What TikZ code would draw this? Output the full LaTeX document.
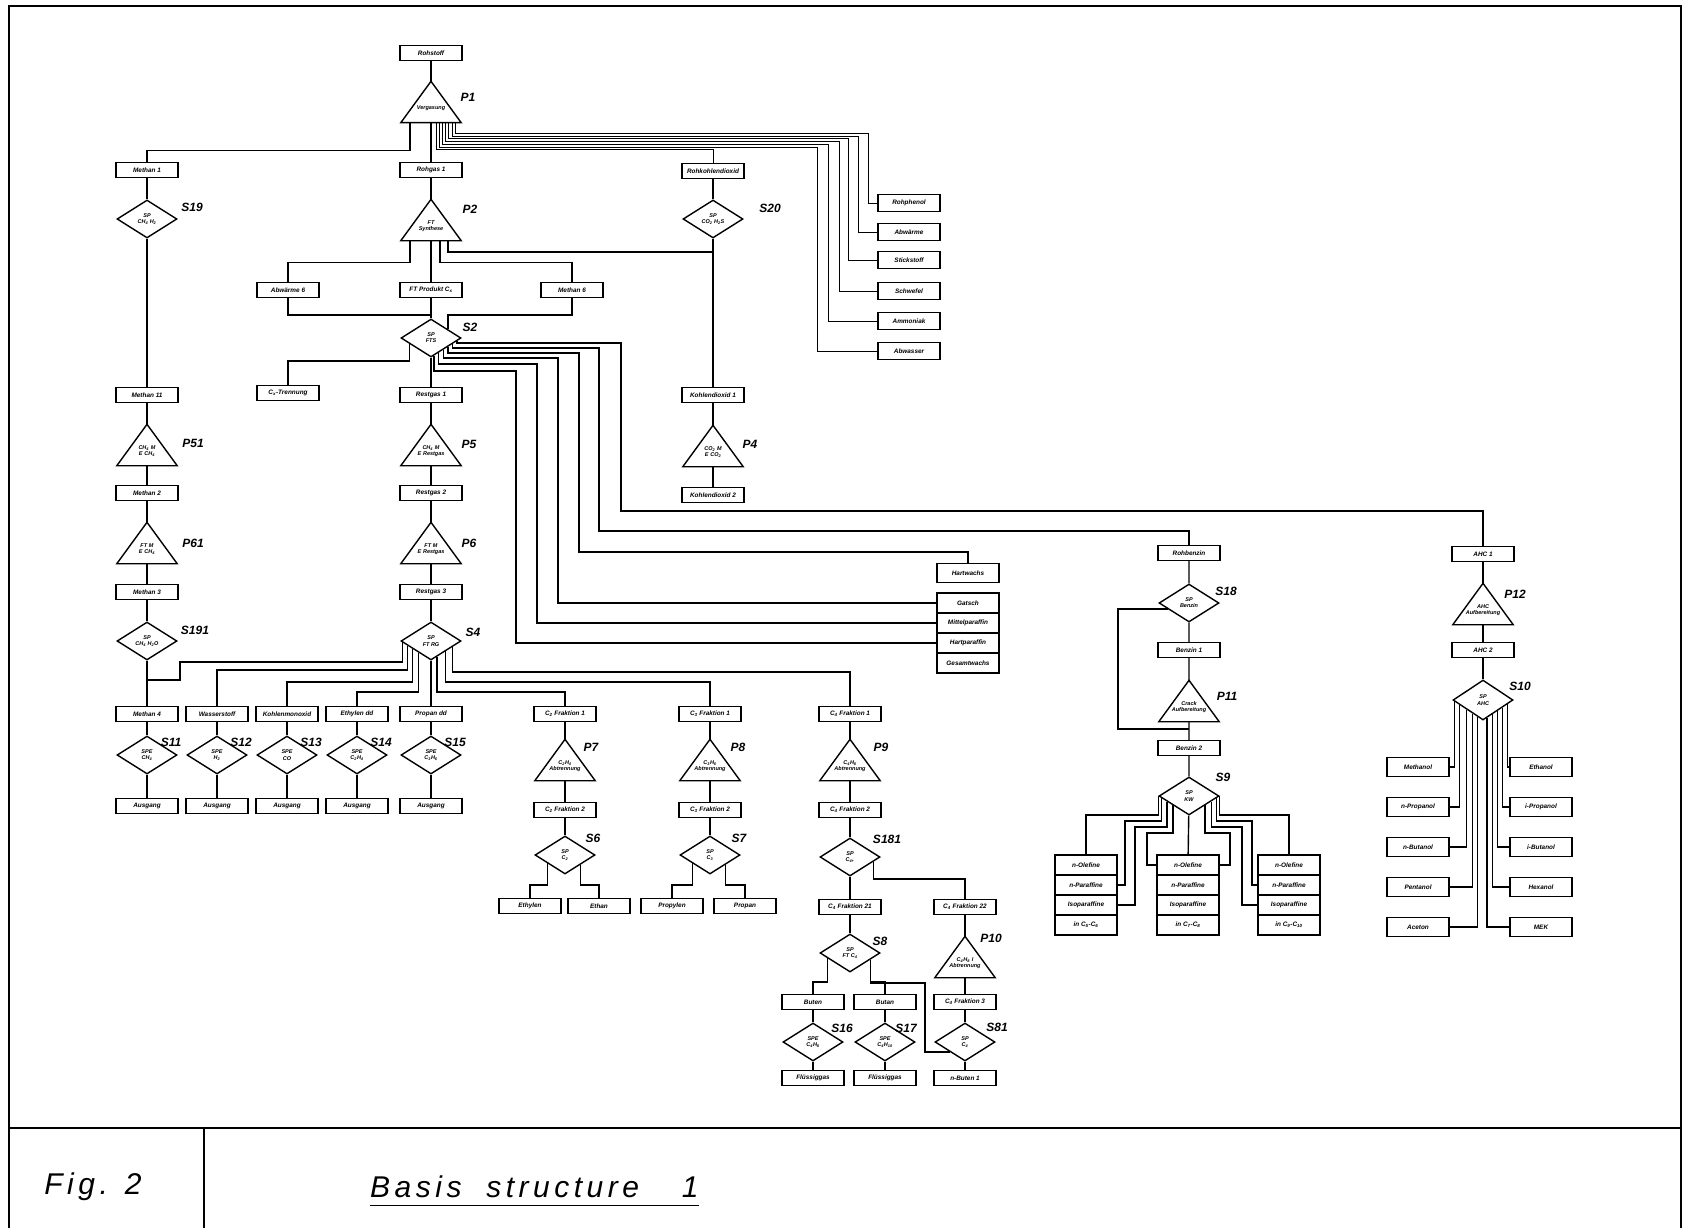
\documentclass[tikz,border=0pt]{standalone}
\usepackage{fontspec}
\usetikzlibrary{shapes.geometric}
\usetikzlibrary{calc}
\newfontfamily\labfont{Liberation Sans}
\newfontfamily\capfont[LetterSpace=15]{Liberation Sans}
\newcommand*{\boxfont}{\labfont\fontsize{6.4}{7}\selectfont\bfseries\itshape}
\newcommand*{\symfont}{\labfont\fontsize{5.5}{6.2}\selectfont\bfseries\itshape}
\newcommand*{\nrfont}{\labfont\fontsize{12}{13}\selectfont\bfseries\itshape}
\newcommand*{\ts}[1]{\textsubscript{#1}}

\begin{document}
\begin{tikzpicture}[x=1pt,y=-1pt]
\tikzset{box/.style={rectangle,draw,fill=white,line width=1.3pt,minimum width=62pt,minimum height=15pt,inner sep=1pt,font=\boxfont},
  rowbox/.style={box,minimum height=20pt},
  splitter/.style={diamond,draw,fill=white,line width=1.4pt,aspect=1.5,minimum width=60pt,minimum height=38pt,inner sep=0pt,align=center,font=\symfont},
  proc/.style={rectangle,minimum width=60pt,minimum height=41pt,inner sep=0pt,text width=46pt,align=center,font=\symfont,execute at begin node={\rule{0pt}{16pt}}},
  nr/.style={font=\nrfont,inner sep=0pt},
  link/.style={line width=1.4pt},
  fan/.style={line width=1.2pt},
  bundle/.style={line width=0.9pt}};

    \useasboundingbox (0,0) rectangle (1684,1228);

    % frame and caption
    \draw[line width=1.2pt] (9,1228) -- (9,6) -- (1681,6) -- (1681,1228);
    \draw[line width=1.4pt] (9,1128) -- (1681,1128);
    \draw[line width=1.4pt] (204,1128) -- (204,1228);
    \node[font=\capfont\fontsize{30}{32}\selectfont\itshape,inner sep=0pt] (fig) at (93,1187) {Fig. 2};
    \node[font=\capfont\fontsize{30}{32}\selectfont\itshape,inner sep=0pt,anchor=west] (titel) at (370,1187) {Basis\hspace{12pt} structure\hspace{30pt} 1};
    \draw[line width=1.3pt] ($(titel.south west)+(0,7)$) -- ($(titel.south east)+(0,7)$);

    % main column
    \node[box] (rohstoff) at (431,53) {Rohstoff};
    \node[proc] (p1) at (431,102) {Vergasung};
    \node[box] (rohgas) at (431,170) {Rohgas 1};
    \node[proc] (p2) at (431,220) {FT\\Synthese};
    \node[box] (abw) at (288,290) {Abwärme 6};
    \node[box] (ftprod) at (431,290) {FT Produkt C\ts{x}};
    \node[box] (meth6) at (572,290) {Methan 6};
    \node[splitter] (s2) at (431,338) {SP\\FTS};
    \node[box] (cxtr) at (288,393) {C\ts{x}-Trennung};
    \node[box] (rest1) at (431,395) {Restgas 1};
    \node[proc] (p5) at (431,445) {CH\ts{4} M\\E Restgas};
    \node[box] (rest2) at (431,493) {Restgas 2};
    \node[proc] (p6) at (431,543) {FT M\\E Restgas};
    \node[box] (rest3) at (431,592) {Restgas 3};
    \node[splitter] (s4) at (431,641) {SP\\FT RG};

    % methane column
    \node[box] (meth1) at (147,170) {Methan 1};
    \node[splitter] (s19) at (147,219) {SP\\CH\ts{4} H\ts{2}};
    \node[box] (meth11) at (147,395) {Methan 11};
    \node[proc] (p51) at (147,445) {CH\ts{4} M\\E CH\ts{4}};
    \node[box] (meth2) at (147,493) {Methan 2};
    \node[proc] (p61) at (147,543) {FT M\\E CH\ts{4}};
    \node[box] (meth3) at (147,592) {Methan 3};
    \node[splitter] (s191) at (147,641) {SP\\CH\ts{4} H\ts{2}O};

    % CO2 column
    \node[box] (rohco2) at (713,171) {Rohkohlendioxid};
    \node[splitter] (s20) at (713,219) {SP\\CO\ts{2} H\ts{2}S};
    \node[box] (co21) at (713,395) {Kohlendioxid 1};
    \node[proc] (p4) at (713,446) {CO\ts{2} M\\E CO\ts{2}};
    \node[box] (co22) at (713,495) {Kohlendioxid 2};

    % gasifier side products
    \foreach \i/\y/\txt in {1/203/Rohphenol,2/232/Abwärme,3/260/Stickstoff,4/291/Schwefel,5/321/Ammoniak,6/351/Abwasser}
        \node[box,minimum height=17pt] (pw\i) at (909,\y) {\txt};

    % S4 products
    \foreach \n/\x/\stoff/\spe in {11/147/Methan 4/CH\ts{4},12/217/Wasserstoff/H\ts{2},13/287/Kohlenmonoxid/CO,14/357/Ethylen dd/C\ts{2}H\ts{4},15/431/Propan dd/C\ts{3}H\ts{6}} {
        \node[box] (g\n) at (\x,714) {\stoff};
        \node[splitter] (s\n) at (\x,755) {SPE\\\spe};
        \node[box] (a\n) at (\x,806) {Ausgang};
        \node[nr] (lS\n) at (\x+24,742) {S\n};
        \draw[link] (g\n) -- (s\n) (s\n) -- (a\n);
    }

    % C2, C3, C4
    \node[box] (c2a) at (565,714) {C\ts{2} Fraktion 1};
    \node[proc] (p7) at (565,760) {C\ts{2}H\ts{4}\\Abtrennung};
    \node[box] (c2b) at (565,810) {C\ts{2} Fraktion 2};
    \node[splitter] (s6) at (565,855) {SP\\C\ts{2}};
    \node[box] (ethylen) at (530,906) {Ethylen};
    \node[box] (ethan) at (599,906) {Ethan};
    \node[box] (c3a) at (710,714) {C\ts{3} Fraktion 1};
    \node[proc] (p8) at (710,760) {C\ts{3}H\ts{6}\\Abtrennung};
    \node[box] (c3b) at (710,810) {C\ts{3} Fraktion 2};
    \node[splitter] (s7) at (710,855) {SP\\C\ts{3}};
    \node[box] (propylen) at (672,906) {Propylen};
    \node[box] (propan) at (745,906) {Propan};
    \node[box] (c4a) at (850,714) {C\ts{4} Fraktion 1};
    \node[proc] (p9) at (850,760) {C\ts{4}H\ts{8}\\Abtrennung};
    \node[box] (c4b) at (850,810) {C\ts{4} Fraktion 2};
    \node[splitter] (s181) at (850,857) {SP\\C\ts{4+}};
    \node[box] (c4c) at (850,907) {C\ts{4} Fraktion 21};
    \node[box] (c4d) at (965,907) {C\ts{4} Fraktion 22};
    \node[splitter] (s8) at (850,953) {SP\\FT C\ts{4}};
    \node[box] (buten) at (813,1002) {Buten};
    \node[box] (butan) at (885,1002) {Butan};
    \node[splitter] (s16) at (813,1042) {SPE\\C\ts{4}H\ts{8}};
    \node[splitter] (s17) at (885,1042) {SPE\\C\ts{4}H\ts{10}};
    \node[box] (fl1) at (813,1078) {Flüssiggas};
    \node[box] (fl2) at (885,1078) {Flüssiggas};
    \node[proc] (p10) at (965,957) {C\ts{4}H\ts{8} I\\Abtrennung};
    \node[box] (c4e) at (965,1002) {C\ts{4} Fraktion 3};
    \node[splitter] (s81) at (965,1042) {SP\\C\ts{4}};
    \node[box] (nbuten) at (965,1078) {n-Buten 1};

    % wax
    \node[box,minimum height=19pt] (wachs) at (968,573) {Hartwachs};
    \foreach \r/\y/\txt in {1/603/Gatsch,2/623/Mittelparaffin,3/643/Hartparaffin,4/663/Gesamtwachs}
        \node[rowbox] (wr\r) at (968,\y) {\txt};

    % petrol column
    \node[box] (rohbenz) at (1189,553) {Rohbenzin};
    \node[splitter] (s18) at (1189,603) {SP\\Benzin};
    \node[box] (benz1) at (1189,650) {Benzin 1};
    \node[proc] (p11) at (1189,701) {Crack\\Aufbereitung};
    \node[box] (benz2) at (1189,748) {Benzin 2};
    \node[splitter] (s9) at (1189,796) {SP\\KW};
    \foreach \col/\x/\cc in {a/1086/C\ts{5}-C\ts{6},b/1188/C\ts{7}-C\ts{8},c/1289/C\ts{9}-C\ts{10}} {
        \node[rowbox] (k\col1) at (\x,865) {n-Olefine};
        \node[rowbox] (k\col2) at (\x,885) {n-Paraffine};
        \node[rowbox] (k\col3) at (\x,905) {Isoparaffine};
        \node[rowbox] (k\col4) at (\x,925) {in \cc};
    }

    % alcohol column
    \node[box] (ahc1) at (1483,554) {AHC 1};
    \node[proc] (p12) at (1483,604) {AHC\\Aufbereitung};
    \node[box] (ahc2) at (1483,650) {AHC 2};
    \node[splitter,minimum height=40pt] (s10) at (1483,700) {SP\\AHC};
    \foreach \r/\y/\links/\rechts/\tA/\tB in {1/767/Methanol/Ethanol/0.93/0.8,2/807/n-Propanol/i-Propanol/0.77/0.63,3/847/n-Butanol/i-Butanol/0.53/0.47,4/887/Pentanol/Hexanol/0.33/0.3,5/927/Aceton/MEK/0.17/0.13} {
        \node[box,minimum height=19pt] (al\r) at (1418,\y) {\links};
        \node[box,minimum height=19pt] (ar\r) at (1541,\y) {\rechts};
        \draw[fan] ($(s10.south)!\tA!(s10.west)$) |- (al\r.east);
        \draw[fan] ($(s10.south)!\tB!(s10.east)$) |- (ar\r.west);
    }

    % triangles
    \foreach \p in {p1,p2,p4,p5,p6,p51,p61,p7,p8,p9,p10,p11,p12}
        \draw[line width=1.4pt] (\p.north) -- (\p.south east) -- (\p.south west) -- cycle;

    % numbers
    \foreach \n/\x/\y in {P1/468/97,P2/470/209,S19/192/207,S20/770/208,S2/470/327,P51/193/443,P5/469/444,P4/750/444,P61/193/543,P6/469/543,S191/195/630,S4/473/632,S6/593/838,S7/739/838,S181/887/839,P7/591/747,P8/738/747,P9/881/747,S8/880/941,P10/991/938,S16/842/1028,S17/906/1028,S81/997/1027,S18/1226/591,P11/1227/696,S9/1223/777,P12/1515/594,S10/1520/686}
        \node[nr] (l\n) at (\x,\y) {\n};

    % gasification
    \draw[link] (rohstoff) -- (p1.north);
    \draw[link] (p1.south) -- (rohgas);
    \draw[link] ($(p1.south)+(-21,0)$) -- ++(0,28) -| (meth1.north);
    \draw[bundle] ($(p1.south)+(5,0)$) -- ++(0,27) -| (rohco2.north);
    \foreach \i/\vx in {6/817,5/828,4/839,3/848,2/858,1/868}
        \draw[bundle] ($(p1.south)+({5+3.2*(7-\i)},0)$) |- (\vx,{150-2.8*(7-\i)}) |- (pw\i.west);

    % synthesis
    \draw[link] (rohgas) -- (p2.north);
    \draw[link] ($(p2.south)+(-21,0)$) -- ++(0,22) -| (abw.north);
    \draw[link] (p2.south) -- (ftprod);
    \draw[link] ($(p2.south)+(9,0)$) -- ++(0,22) -| (meth6.north);
    \draw[link] ($(p2.south)+(17,0)$) |- (s20.south |- 0,252);
    \draw[link] (abw.south) -- ++(0,17) -| (s2.north);
    \draw[link] (meth6.south) -- ++(0,17) -| ($(s2.north)!0.55!(s2.east)$);
    \draw[link] (ftprod) -- (s2);
    \draw[link] ($(s2.south)!0.7!(s2.west)$) |- ($(cxtr.north)+(0,-24)$) -- (cxtr.north);
    \draw[link] (s2) -- (rest1);
    \foreach \t/\lv/\vx/\hy/\tgt in {0.15/343/621/511/ahc1,0.3/348/599/531/rohbenz,0.45/353/579/552/wachs}
        \draw[link] ($(s2.east)!\t!(s2.south)$) |- (\vx,\lv) -- (\vx,\hy) -| (\tgt.north);
    \foreach \t/\lv/\vx/\r in {0.6/358/558/1,0.75/364/537/2,0.9/371/516/3}
        \draw[link] ($(s2.east)!\t!(s2.south)$) |- (\vx,\lv) |- (wr\r.west);

    % methane and CO2 columns
    \draw[link] (meth1) -- (s19) (s19) -- (meth11) (meth11) -- (p51.north) (p51.south) -- (meth2)
        (meth2) -- (p61.north) (p61.south) -- (meth3) (meth3) -- (s191) (s191) -- (g11);
    \draw[link] (rohco2) -- (s20) (s20) -- (co21) (co21) -- (p4.north) (p4.south) -- (co22);

    % rest gas
    \draw[link] (rest1) -- (p5.north) (p5.south) -- (rest2) (rest2) -- (p6.north) (p6.south) -- (rest3) (rest3) -- (s4);
    \draw[link] ($(s4.south)!0.93!(s4.west)$) |- (180,662) |- (g11.north |- 0,680);
    \draw[link] ($(s4.south)!0.77!(s4.west)$) |- (g12.north |- 0,670) -- (g12.north);
    \draw[link] ($(s4.south)!0.6!(s4.west)$) |- (g13.north |- 0,682) -- (g13.north);
    \draw[link] ($(s4.south)!0.4!(s4.west)$) |- (g14.north |- 0,692) -- (g14.north);
    \draw[link] (s4) -- (g15);
    \draw[link] ($(s4.south)!0.2!(s4.east)$) |- (c2a.north |- 0,692) -- (c2a.north);
    \draw[link] ($(s4.south)!0.47!(s4.east)$) |- (c3a.north |- 0,682) -- (c3a.north);
    \draw[link] ($(s4.south)!0.7!(s4.east)$) |- (c4a.north |- 0,672) -- (c4a.north);

    % C2 and C3
    \draw[link] (c2a) -- (p7.north) (p7.south) -- (c2b) (c2b) -- (s6);
    \draw[link] ($(s6.south)!0.57!(s6.west)$) |- ($(ethylen.north)+(0,-13)$) -- (ethylen.north);
    \draw[link] ($(s6.south)!0.5!(s6.east)$) |- ($(ethan.north)+(0,-13)$) -- (ethan.north);
    \draw[link] (c3a) -- (p8.north) (p8.south) -- (c3b) (c3b) -- (s7);
    \draw[link] ($(s7.south)!0.57!(s7.west)$) |- ($(propylen.north)+(0,-13)$) -- (propylen.north);
    \draw[link] ($(s7.south)!0.5!(s7.east)$) |- ($(propan.north)+(0,-13)$) -- (propan.north);

    % C4
    \draw[link] (c4a) -- (p9.north) (p9.south) -- (c4b) (c4b) -- (s181) (s181) -- (c4c) (c4c) -- (s8);
    \draw[link] ($(s181.south)!0.77!(s181.east)$) |- ($(c4d.north)+(0,-20)$) -- (c4d.north);
    \draw[link] (c4d) -- (p10.north) (p10.south) -- (c4e) (c4e) -- (s81) (s81) -- (nbuten);
    \draw[link] ($(s8.south)!0.73!(s8.west)$) |- ($(buten.north)+(0,-12)$) -- (buten.north);
    \draw[link] ($(s8.south)!0.67!(s8.east)$) |- ($(butan.north)+(0,-12)$) -- (butan.north);
    \draw[link] ($(s8.south)!0.67!(s8.east)$) |- (925,983) |- ($(s81.south)!0.5!(s81.west)$);
    \draw[link] (buten) -- (s16) (s16) -- (fl1) (butan) -- (s17) (s17) -- (fl2);

    % petrol
    \draw[link] (rohbenz) -- (s18) (s18) -- (benz1) (benz1) -- (p11.north) (p11.south) -- (benz2) (benz2) -- (s9) (s9) -- (kb1);
    \draw[link] ($(s18.south)!0.7!(s18.west)$) -| (1118,729) -- (p11.south |- 0,729);
    \draw[fan] (s9.west) -- ++(0,19) -| (ka1.north);
    \draw[fan] ($(s9.south)!0.9!(s9.west)$) |- (1125,821) |- (ka2.east);
    \draw[fan] ($(s9.south)!0.72!(s9.west)$) |- (1135,827) |- (ka3.east);
    \draw[fan] ($(s9.south)!0.52!(s9.west)$) |- (1147,833) |- (kb1.west);
    \draw[fan] (s9.east) -- ++(0,19) -| (kc1.north);
    \draw[fan] ($(s9.south)!0.9!(s9.east)$) |- (1252,821) |- (kc2.west);
    \draw[fan] ($(s9.south)!0.72!(s9.east)$) |- (1242,827) |- (kc3.west);
    \draw[fan] ($(s9.south)!0.52!(s9.east)$) |- (1230,833) |- (kb1.east);

    % alcohols
    \draw[link] (ahc1) -- (p12.north) (p12.south) -- (ahc2) (ahc2) -- (s10);
\end{tikzpicture}
\end{document}
